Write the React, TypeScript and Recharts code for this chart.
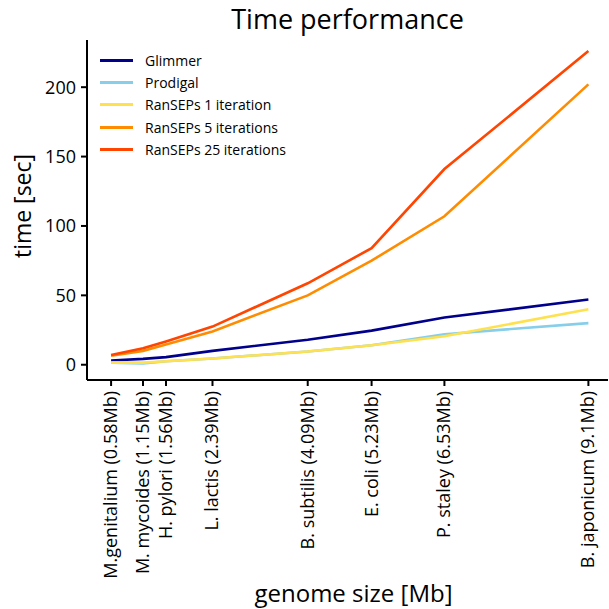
import { LineChart, Line, XAxis, YAxis } from 'recharts';

const genomes = [
  'M.genitalium (0.58Mb)',
  'M. mycoides (1.15Mb)',
  'H. pylori (1.56Mb)',
  'L. lactis (2.39Mb)',
  'B. subtilis (4.09Mb)',
  'E. coli (5.23Mb)',
  'P. staley (6.53Mb)',
  'B. japonicum (9.1Mb)',
];
const sizes = [0.58, 1.15, 1.56, 2.39, 4.09, 5.23, 6.53, 9.1];

const glimmer = [3, 4.2, 5.5, 10, 18, 24.6, 34, 47];
const prodigal = [1.5, 1, 2.5, 4.5, 9.5, 14, 22, 30];
const ransepsOne = [1.5, 1.5, 2.5, 4.5, 9.5, 14, 20.5, 40];
const ransepsFive = [6.5, 10, 14.5, 24, 50, 75, 107, 202];
const ransepsTwentyFive = [7, 11.8, 16.8, 27.5, 58.7, 84, 141, 226];

const series = [
  { key: 'glimmer', name: 'Glimmer', color: '#00008b' },
  { key: 'prodigal', name: 'Prodigal', color: '#87ceeb' },
  { key: 'r1', name: 'RanSEPs 1 iteration', color: '#ffe14d' },
  { key: 'r5', name: 'RanSEPs 5 iterations', color: '#ff8c00' },
  { key: 'r25', name: 'RanSEPs 25 iterations', color: '#ff4500' },
];

const data = sizes.map((s, i) => ({
  size: s,
  glimmer: glimmer[i],
  prodigal: prodigal[i],
  r1: ransepsOne[i],
  r5: ransepsFive[i],
  r25: ransepsTwentyFive[i],
}));

const font = '"Open Sans", "Noto Sans", sans-serif';

function GenomeTick({ x, y, payload }) {
  const idx = sizes.indexOf(payload.value);
  return (
    <text
      x={0}
      y={0}
      transform={`translate(${x + 6}, ${y + 3}) rotate(-90)`}
      textAnchor="end"
      fontSize={18}
      fontFamily={font}
      fill="#000"
    >
      {genomes[idx]}
    </text>
  );
}

function TimeLabel() {
  return (
    <text
      x={22}
      y={206}
      transform="rotate(-90, 22, 206)"
      textAnchor="middle"
      dominantBaseline="central"
      fontSize={23}
      fontFamily={font}
      fill="#000"
    >
      time [sec]
    </text>
  );
}

export default function App() {
  return (
    <div style={{ position: 'absolute', left: 0, top: 0, width: 609, height: 609, background: '#fff' }}>
      <div
        style={{
          position: 'absolute',
          left: 87,
          width: 521,
          top: 0,
          textAlign: 'center',
          fontFamily: font,
          fontSize: 27,
        }}
      >
        Time performance
      </div>
      <LineChart width={609} height={609} data={data} margin={{ top: 40, right: 1, left: 0, bottom: 0 }}>
        <XAxis
          dataKey="size"
          type="number"
          domain={[0.15, 9.45]}
          ticks={sizes}
          tick={<GenomeTick />}
          tickSize={6}
          interval={0}
          stroke="#000"
          strokeWidth={2}
          height={229}
          label={{ value: 'genome size [Mb]', position: 'insideBottom', offset: 7, dx: 6, fontSize: 24, fontFamily: font, fill: '#000' }}
        />
        <YAxis
          type="number"
          domain={[-11, 234]}
          ticks={[0, 50, 100, 150, 200]}
          width={87}
          tickSize={6}
          stroke="#000"
          strokeWidth={2}
          tick={{ fontSize: 18, fontFamily: font, fill: '#000', dx: -3 }}
          label={<TimeLabel />}
        />
        {series.map((s) => (
          <Line
            key={s.key}
            type="linear"
            dataKey={s.key}
            name={s.name}
            stroke={s.color}
            strokeWidth={2.6}
            dot={false}
            isAnimationActive={false}
          />
        ))}
      </LineChart>
      <div style={{ position: 'absolute', left: 100, top: 49, fontFamily: font, fontSize: 14 }}>
        {series.map((s) => (
          <div key={s.key} style={{ display: 'flex', alignItems: 'center', height: 22.3 }}>
            <div style={{ width: 33, height: 3, background: s.color, marginRight: 12 }} />
            <span>{s.name}</span>
          </div>
        ))}
      </div>
    </div>
  );
}
